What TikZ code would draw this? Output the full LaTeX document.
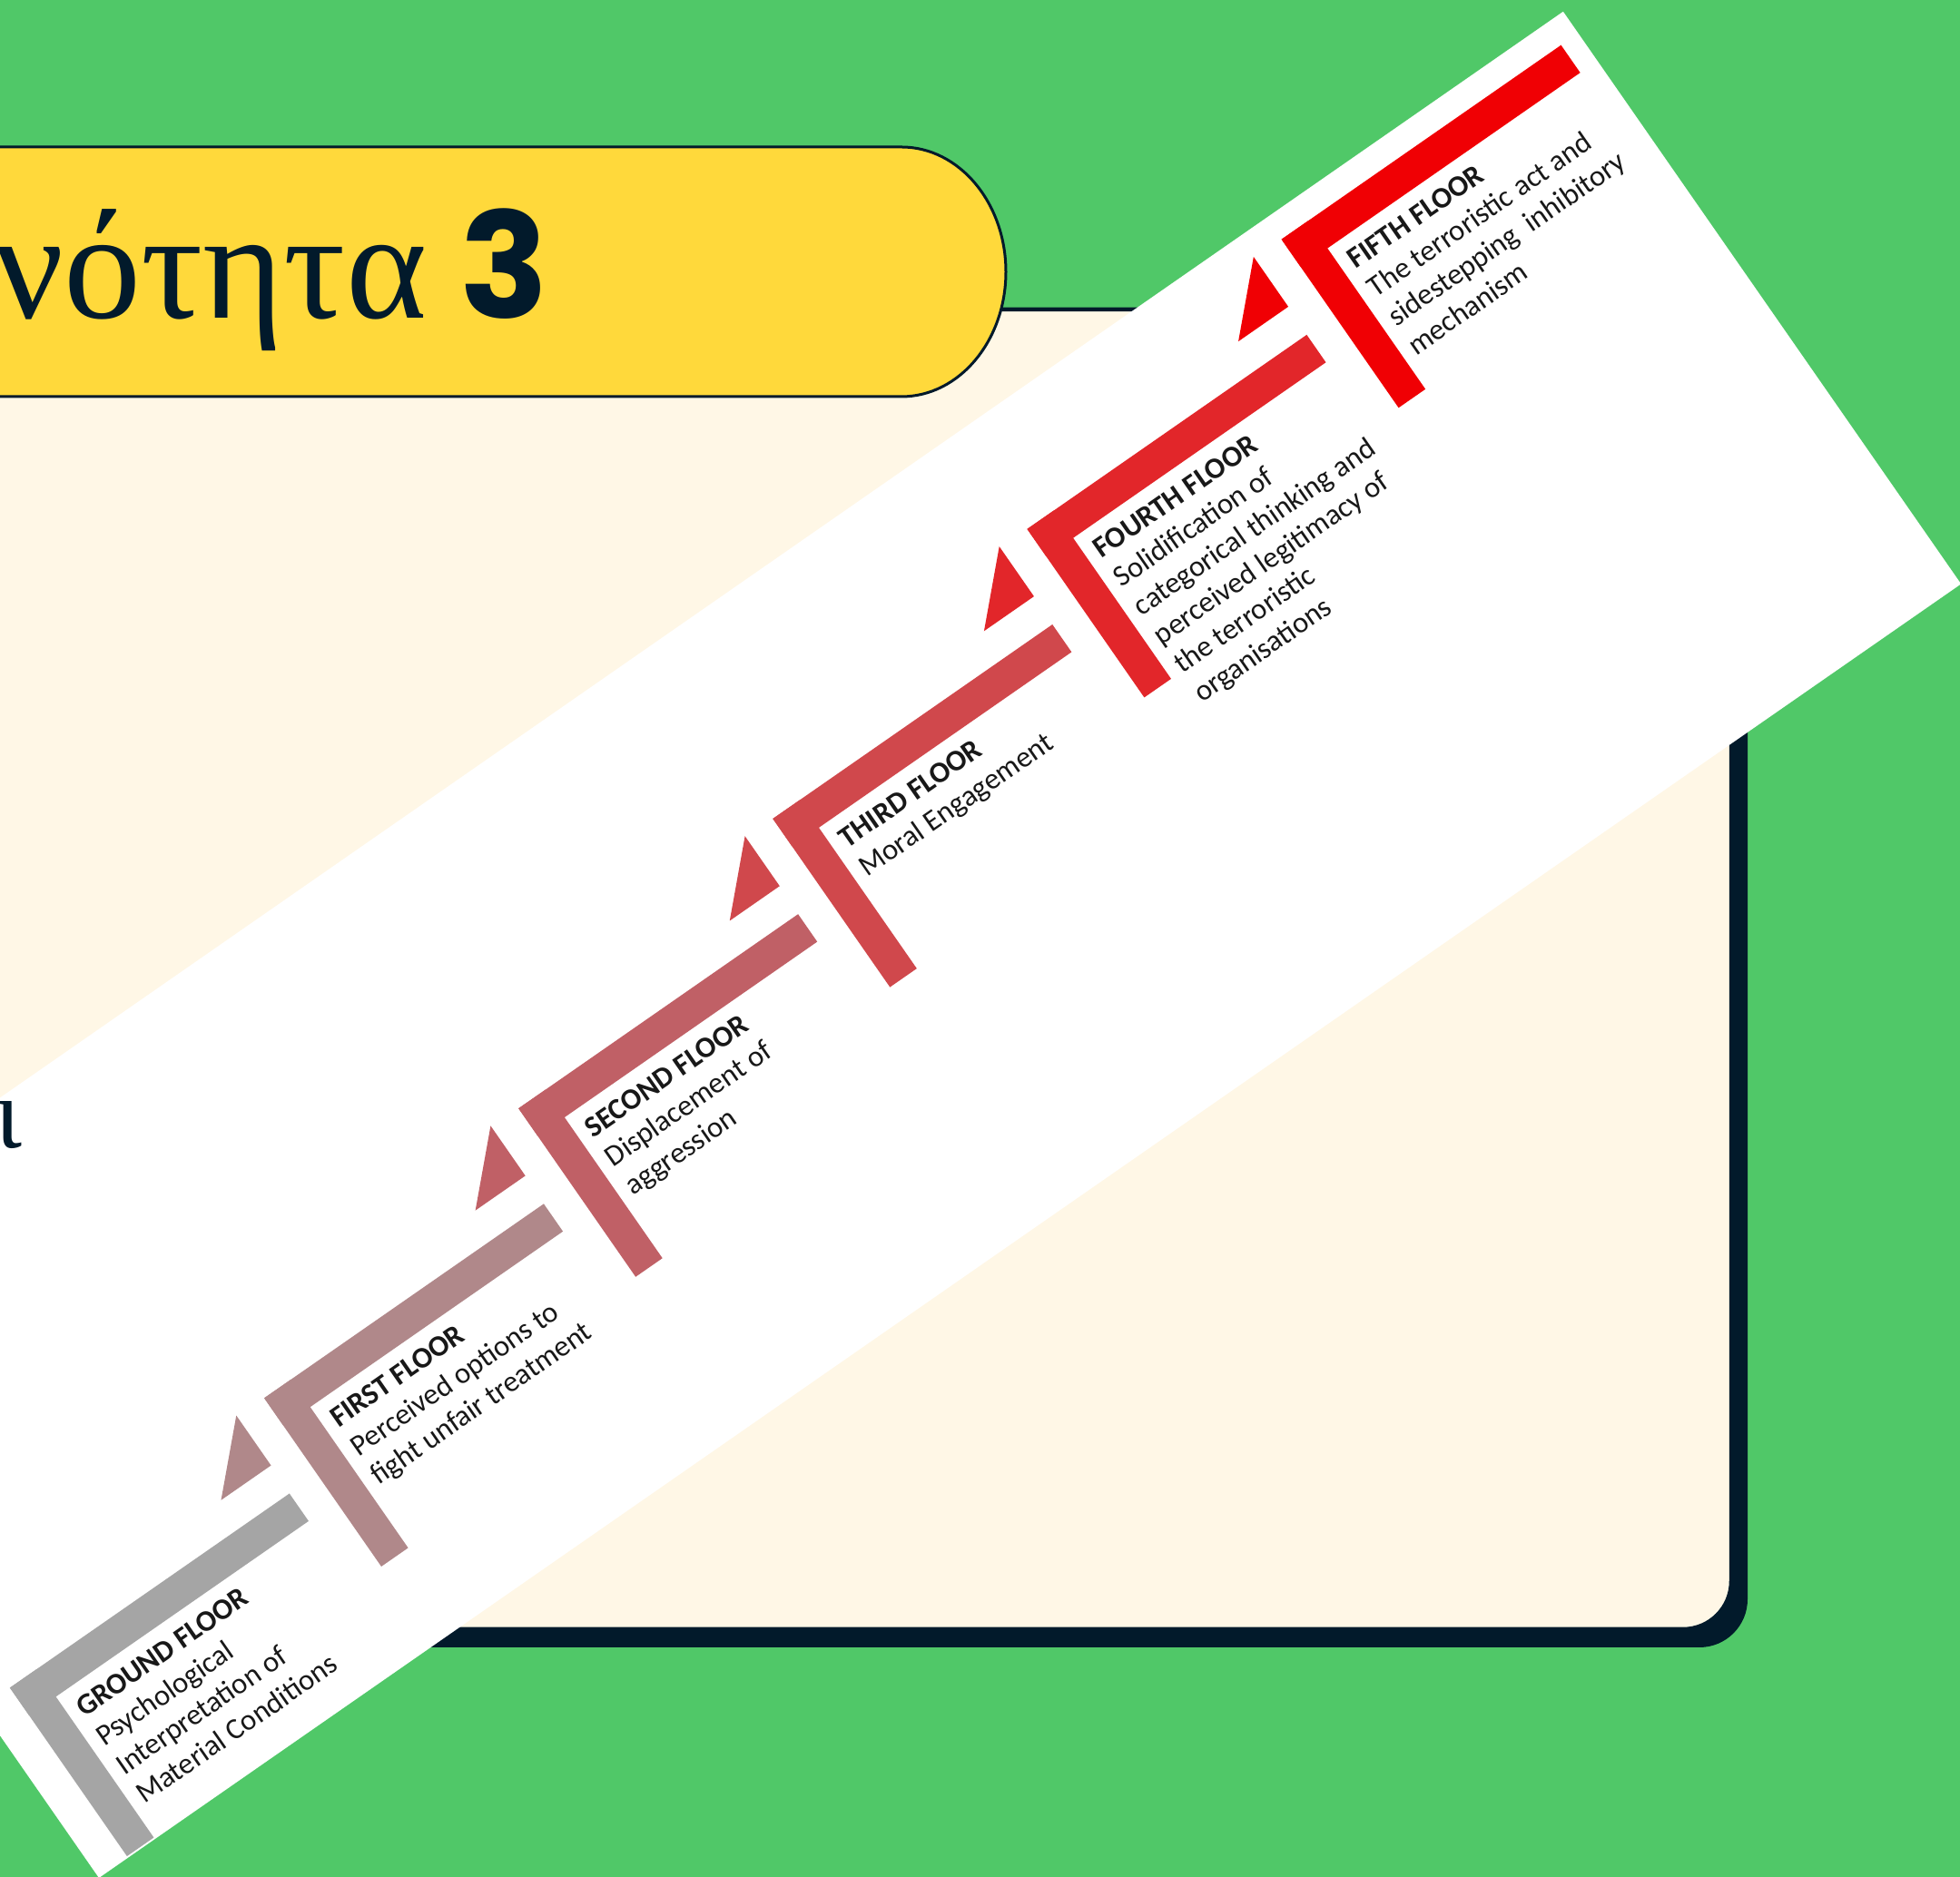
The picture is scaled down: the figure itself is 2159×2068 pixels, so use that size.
\documentclass[tikz,border=0pt]{standalone}
\usepackage{fontspec}
\setmainfont{Liberation Serif}
\newfontfamily\calfont{Carlito}
\newfontfamily\popfont{Poppins}
\definecolor{bggreen}{HTML}{50C868}
\definecolor{banner}{HTML}{FFD93B}
\definecolor{cream}{HTML}{FFF7E6}
\definecolor{navy}{HTML}{021A2B}
\definecolor{ink}{HTML}{181818}
\definecolor{f0}{HTML}{A5A5A5}
\definecolor{f1}{HTML}{B0888A}
\definecolor{f2}{HTML}{C06066}
\definecolor{f3}{HTML}{D0484C}
\definecolor{f4}{HTML}{E2262A}
\definecolor{f5}{HTML}{F00004}
\begin{document}
\begin{tikzpicture}[x=0.1mm,y=0.1mm,
  floortext/.style={font=\calfont\fontsize{9.3pt}{11pt}\selectfont, align=left, inner sep=0pt, text=ink, anchor=north west},
  titletext/.style={text=navy, inner sep=0pt}]
\useasboundingbox (0,0) rectangle (2159,2068);
\clip (0,0) rectangle (2159,2068);
\fill[bggreen] (0,0) rectangle (2159,2068);
% panel with shadow
\fill[navy, rounded corners=5.3mm] (-120,1707) rectangle (1925,253);
\filldraw[fill=cream, draw=navy, line width=0.45mm, rounded corners=5.3mm] (-100,1727) rectangle (1907,273);
% banner
\filldraw[fill=banner, draw=navy, line width=0.3mm] (-100,1906) -- (993,1906)
  arc[start angle=90, end angle=-90, x radius=11.5mm, y radius=13.75mm] -- (-100,1631) -- cycle;
\node[titletext, anchor=base east, font=\fontsize{48.4pt}{58pt}\selectfont] (title) at (471,1717) {Ενότητα};
\node[titletext, anchor=base west, font=\popfont\bfseries\fontsize{46pt}{55pt}\selectfont] (unitno) at (506,1717) {3};
% rotated strip with staircase
\begin{scope}[shift={(109,-1)}, rotate=34.8, transform shape]
  \fill[white] (0,0) rectangle (2498,768);
  \clip (0,0) rectangle (2498,768);
  \foreach \k/\fc/\tc/\txt in {
    0/f0/f1/{\textbf{GROUND FLOOR}\\Psychological\\Interpretation of\\Material Conditions},
    1/f1/f2/{\textbf{FIRST FLOOR}\\Perceived options to\\fight unfair treatment},
    2/f2/f3/{\textbf{SECOND FLOOR}\\Displacement of\\aggression},
    3/f3/f4/{\textbf{THIRD FLOOR}\\Moral Engagement},
    4/f4/f5/{\textbf{FOURTH FLOOR}\\Solidification of\\categorical thinking and\\perceived legitimacy of\\the terroristic\\organisations},
    5/f5/f5/{\textbf{FIFTH FLOOR}\\The terroristic act and\\sidestepping~ inhibitory\\mechanism}}
  {
    \pgfmathsetmacro\cx{39+412.2*\k}
    \pgfmathsetmacro\cy{228+102.2*\k}
    \fill[\fc] (\cx,\cy-37) rectangle (\cx+375,\cy);
    \fill[\fc] (\cx,\cy-226) rectangle (\cx+36,\cy);
    \node[floortext] (fl\k) at (\cx+48,\cy-52) {\txt};
    \ifnum\k<5
      \fill[\tc] (\cx+309,\cy+37) -- (\cx+376,\cy+37) -- (\cx+376,\cy+104) -- cycle;
    \fi
  }
\end{scope}
\node[titletext, anchor=base east, font=\fontsize{31.6pt}{38pt}\selectfont] (tail) at (25,803) {ι};
\end{tikzpicture}
\end{document}
